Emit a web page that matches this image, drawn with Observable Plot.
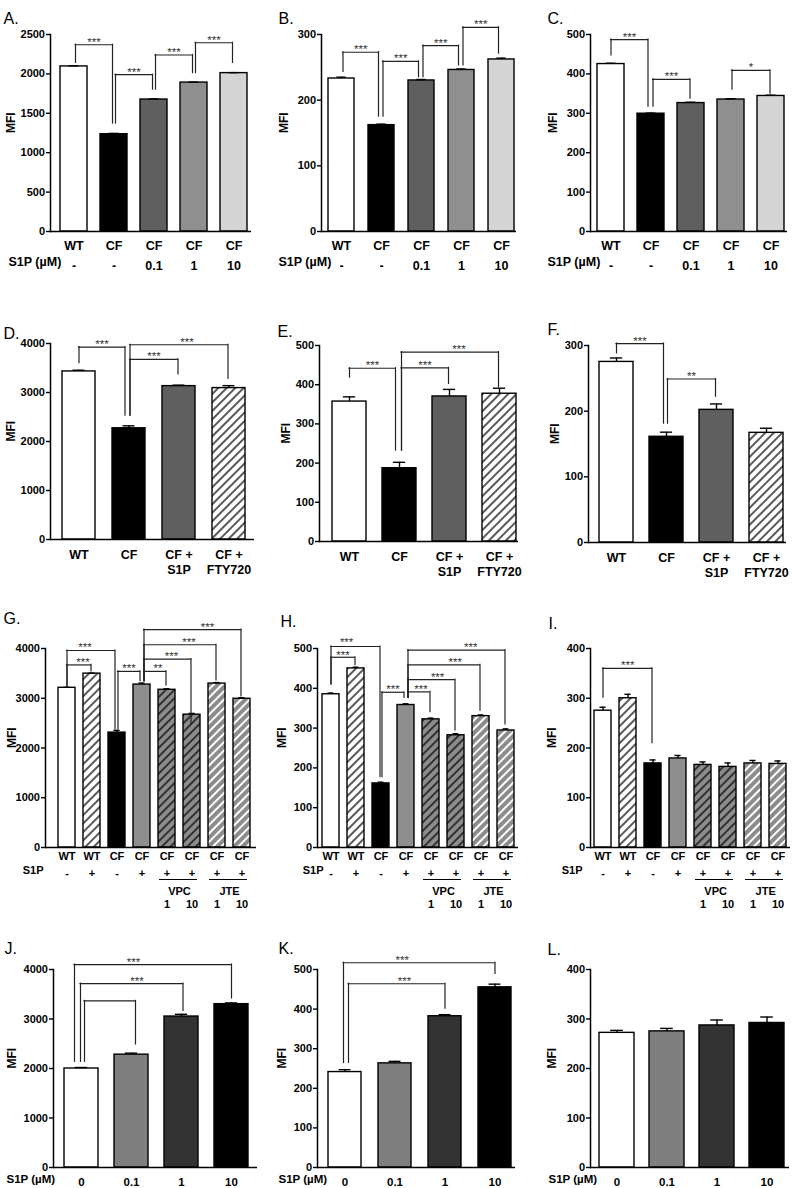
<!DOCTYPE html>
<html><head><meta charset="utf-8">
<script src="https://cdn.jsdelivr.net/npm/d3@7"></script>
<script src="https://cdn.jsdelivr.net/npm/@observablehq/plot@0.6"></script>
<style>
body{margin:0;background:#fff;}
#fig{position:relative;width:794px;height:1188px;background:#fff;overflow:hidden;}
#fig svg{position:absolute;overflow:visible;}
</style></head><body>
<svg width="0" height="0" style="position:absolute">
<defs>
<pattern id="hW" patternUnits="userSpaceOnUse" width="6" height="6" patternTransform="rotate(45)">
<rect width="6" height="6" fill="#ffffff"/><line x1="3" y1="-1" x2="3" y2="7" stroke="#000" stroke-width="1.3"/>
</pattern>
<pattern id="hGB" patternUnits="userSpaceOnUse" width="6" height="6" patternTransform="rotate(45)">
<rect width="6" height="6" fill="#8c8c8c"/><line x1="3" y1="-1" x2="3" y2="7" stroke="#000" stroke-width="1.3"/>
</pattern>
<pattern id="hGW" patternUnits="userSpaceOnUse" width="6" height="6" patternTransform="rotate(45)">
<rect width="6" height="6" fill="#8c8c8c"/><line x1="3" y1="-1" x2="3" y2="7" stroke="#fff" stroke-width="2"/>
</pattern>
</defs></svg>
<div id="fig"></div>
<script>
// ---------- categories / tick labels ----------
const groupsAC = ["WT","CF","CF","CF","CF"];
const dosesAC  = ["-","-","0.1","1","10"];
const groupsDF = ["WT","CF","CF +\nS1P","CF +\nFTY720"];
const groupsGI = ["WT","WT","CF","CF","CF","CF","CF","CF"];
const s1pGI    = ["-","+","-","+","+","+","+","+"];
const doseGI   = ["","","","","1","10","1","10"];
const inhibGI  = [["VPC",4,5],["JTE",6,7]];
const dosesJL  = ["0","0.1","1","10"];

const ticks2500 = [0,500,1000,1500,2000,2500];
const ticks300 = [0,100,200,300];
const ticks400 = [0,100,200,300,400];
const ticks500 = [0,100,200,300,400,500];
const ticks4000 = [0,1000,2000,3000,4000];

// ---------- values (MFI) and errors ----------
const mfiA = [2095, 1235, 1675, 1890, 2010];
const semA = [8, 10, 8, 6, 6];
const mfiB = [233, 162, 230, 246, 262];
const semB = [2, 1.5, 1.5, 1.5, 2];
const mfiC = [425, 299, 326, 335, 344];
const semC = [2, 1.5, 2, 2, 2];

const mfiD = [3430, 2270, 3130, 3090];
const semD = [25, 50, 20, 50];
const mfiE = [357, 187, 370, 377];
const semE = [12, 15, 18, 14];
const mfiF = [275, 161, 202, 167];
const semF = [6, 7, 9, 7];

const mfiG = [3210, 3495, 2310, 3275, 3170, 2670, 3295, 2990];
const semG = [10, 10, 45, 30, 20, 25, 20, 20];
const mfiH = [385, 450, 161, 358, 322, 282, 330, 294];
const semH = [3, 3, 3, 3, 3, 4, 3, 4];
const mfiI = [275, 300, 169, 179, 166, 162, 169, 168];
const semI = [7, 8, 7, 6, 6, 8, 6, 6];

const mfiJ = [2000, 2280, 3050, 3300];
const semJ = [20, 30, 45, 25];
const mfiK = [241, 263, 382, 455];
const semK = [6, 5, 4, 8];
const mfiL = [272, 275, 287, 292];
const semL = [5, 6, 11, 12];

// ---------- significance brackets: [from, to, bracket level, from-leg end, to-leg end, stars] ----------
const sigA = [[0,1,2370,2140,1370,"***"],[1,2,1990,1370,1800,"***"],[2,3,2240,1800,2010,"***"],[3,4,2395,2010,2140,"***"]];
const sigB = [[0,1,273,243,175,"***"],[1,2,259,175,235,"***"],[2,3,283,235,253,"***"],[3,4,311,253,271,"***"]];
const sigC = [[0,1,487,447,317,"***"],[1,2,386,317,337,"***"],[3,4,409,360,350,"*"]];
const sigD = [[0,1,3925,3600,2530,"***"],[1,2,3675,2530,3370,"***"],[1,3,3975,2530,3280,"***"]];
const sigE = [[0,1,442,418,232,"***"],[1,2,443,232,402,"***"],[1,3,483,232,394,"***"]];
const sigF = [[0,1,303,288,181,"***"],[1,2,249,181,222,"**"]];
const sigG = [[0,1,3670,3240,3540,"***"],[0,2,3960,3240,2380,"***"],[2,3,3540,2380,3345,"***"],[3,4,3540,3345,3260,"**"],[3,5,3785,3345,2480,"***"],[3,6,4075,3345,3360,"***"],[3,7,4380,3345,3035,"***"]];
const sigH = [[0,1,478,410,458,"***"],[0,2,505,410,177,"***"],[2,3,390,177,376,"***"],[3,4,391,376,340,"***"],[3,5,422,376,294,"***"],[3,6,459,376,344,"***"],[3,7,496,376,309,"***"]];
const sigI = [[0,2,360,301,210,"***"]];
const sigJ = [[0,3,4100,2135,3415,"***"],[0,2,3715,2135,3165,"***"],[0,1,3365,2135,2485,""]];
const sigK = [[0,3,517,264,489,"***"],[0,2,464,264,401,"***"]];
const sigL = [];

// ---------- styles ----------
const fillsAC = ["#ffffff","#000000","#5f5f5f","#8f8f8f","#d4d4d4"];
const fillsDF = ["#ffffff","#000000","#5f5f5f","url(#hW)"];
const fillsGI = ["#ffffff","url(#hW)","#000000","#8e8e8e","url(#hGB)","url(#hGB)","url(#hGW)","url(#hGW)"];
const fillsJL = ["#ffffff","#7f7f7f","#333333","#000000"];

// ---------- layout (absolute page pixels); nudge = [left-leg dx, right-leg dx, label dx, label dy] ----------
const panels = [
 {letter:"A.", kind:"AC", mfi:mfiA, sem:semA, ticks:ticks2500, sig:sigA, fills:fillsAC, box:[0,0,262,288], axisX:50, axisEnd:251, topY:34, baseY:231, firstBar:60, step:40, bw:27, letterPos:[3,12], mfiX:11, rowLabel:[8,265]},
 {letter:"B.", kind:"AC", mfi:mfiB, sem:semB, ticks:ticks300, sig:sigB, fills:fillsAC, box:[262,0,262,288], axisX:321, axisEnd:516, topY:34, baseY:231, firstBar:328, step:40, bw:26, letterPos:[278,12], mfiX:284, rowLabel:[278,265], nudge:[[1.5,-3,0],[1.5,-3,0],[1.5,-3,0],[1.5,-3,0]]},
 {letter:"C.", kind:"AC", mfi:mfiC, sem:semC, ticks:ticks500, sig:sigC, fills:fillsAC, box:[524,0,270,288], axisX:590, axisEnd:787, topY:34, baseY:231, firstBar:597, step:40, bw:27, letterPos:[547,12], mfiX:553, rowLabel:[547,265], nudge:[[0,-3,0],[2,-1,0],[1,-1,0]]},
 {letter:"D.", kind:"DF", mfi:mfiD, sem:semD, ticks:ticks4000, sig:sigD, fills:fillsDF, box:[0,288,262,292], axisX:50, axisEnd:254, topY:343, baseY:539, firstBar:62, step:50, bw:33, letterPos:[3,327], mfiX:11, nudge:[[0,-4,0],[1,-1,0],[1,-1,8]]},
 {letter:"E.", kind:"DF", mfi:mfiE, sem:semE, ticks:ticks500, sig:sigE, fills:fillsDF, box:[262,288,262,292], axisX:319, axisEnd:518, topY:345, baseY:541, firstBar:332, step:50, bw:34, letterPos:[277,325], mfiX:286, nudge:[[0,-4,0],[2,-1,0],[2,-1,9]]},
 {letter:"F.", kind:"DF", mfi:mfiF, sem:semF, ticks:ticks300, sig:sigF, fills:fillsDF, box:[524,288,270,292], axisX:588, axisEnd:786, topY:345, baseY:542, firstBar:599, step:50, bw:34, letterPos:[547,323], mfiX:555, nudge:[[0,-3,0],[1,-1,0]]},
 {letter:"G.", kind:"GI", mfi:mfiG, sem:semG, ticks:ticks4000, sig:sigG, fills:fillsGI, box:[0,580,262,330], axisX:45, axisEnd:256, topY:648, baseY:847, firstBar:58, step:25, bw:17, letterPos:[3,612], mfiX:12, rowLabel:[43,873], nudge:[[0,-1,4],[0,-2,-6],[1,-2,0],[2,-1,3],[2,-1,4],[2,-1,9],[2,-1,15]]},
 {letter:"H.", kind:"GI", mfi:mfiH, sem:semH, ticks:ticks500, sig:sigH, fills:fillsGI, box:[262,580,262,330], axisX:317, axisEnd:518, topY:648, baseY:847, firstBar:322, step:25.1, bw:17.5, letterPos:[280,615], mfiX:282, rowLabel:[323,873], nudge:[[0,-1,0,1],[0,-1,-9,-2],[1,-2,0],[2,-1,2],[2,-1,6],[2,-1,11],[2,-1,14]]},
 {letter:"I.", kind:"GI", mfi:mfiI, sem:semI, ticks:ticks400, sig:sigI, fills:fillsGI, box:[524,580,270,330], axisX:590, axisEnd:790, topY:648, baseY:847, firstBar:593, step:25.3, bw:17, letterPos:[548,617], mfiX:552, rowLabel:[582,873], nudge:[[0,-1,0]]},
 {letter:"J.", kind:"JL", mfi:mfiJ, sem:semJ, ticks:ticks4000, sig:sigJ, fills:fillsJL, box:[0,910,262,278], axisX:53, axisEnd:257, topY:969, baseY:1167, firstBar:63, step:50.3, bw:34, letterPos:[4,942], mfiX:12, rowLabel:[6,1182], nudge:[[-7,0,-20],[-1,1.5,5],[3,4,0]]},
 {letter:"K.", kind:"JL", mfi:mfiK, sem:semK, ticks:ticks500, sig:sigK, fills:fillsJL, box:[262,910,262,278], axisX:317, axisEnd:515, topY:969, baseY:1167, firstBar:326, step:50.7, bw:33, letterPos:[278,942], mfiX:282, rowLabel:[278,1182], nudge:[[-1.5,0,-18],[3.5,0,7]]},
 {letter:"L.", kind:"JL", mfi:mfiL, sem:semL, ticks:ticks400, sig:sigL, fills:fillsJL, box:[524,910,270,278], axisX:590, axisEnd:789, topY:969, baseY:1167, firstBar:597, step:50.7, bw:35, letterPos:[547,943], mfiX:552, rowLabel:[548,1182]}
];

const FONT = "'Liberation Sans', Arial, Helvetica, sans-serif";
const zero = () => 0;

function buildPanel(p) {
  const n = p.mfi.length;
  const W = p.axisEnd - p.axisX;
  const pi = (p.step - p.bw) / p.step;
  const span = p.step * (n - 1) + p.bw;
  const po = (W / p.step - n + pi) / 2;
  const align = (p.firstBar - p.axisX) / (W - span);
  const [bx, by, bwd, bht] = p.box;
  const rows = p.mfi.map((v, i) => ({i, v, top: v + p.sem[i], fill: p.fills[i]}));
  const capInset = p.bw * 0.32;
  const marks = [];

  // bars + error bars
  marks.push(Plot.barY(rows, {x: "i", y: "v", fill: "fill", stroke: "#000", strokeWidth: 1.4}));
  marks.push(Plot.ruleX(rows, {x: "i", y1: "v", y2: "top", stroke: "#000", strokeWidth: 1.4}));
  marks.push(Plot.tickY(rows, {x: "i", y: "top", insetLeft: capInset, insetRight: capInset, stroke: "#000", strokeWidth: 1.4}));

  // axes
  marks.push(Plot.ruleY([0], {stroke: "#000", strokeWidth: 1.5}));
  marks.push(Plot.frame({anchor: "left", stroke: "#000", strokeWidth: 1.5}));
  marks.push(Plot.axisY({ticks: p.ticks, tickFormat: "d", tickSize: 4, tickPadding: 1.5, strokeWidth: 1.4, label: null, fontSize: 11}));
  marks.push(Plot.text(["MFI"], {text: d => d, frameAnchor: "left", rotate: -90, dx: p.mfiX - p.axisX, fontSize: 12}));
  marks.push(Plot.text([p.letter], {text: d => d, frameAnchor: "top-left", textAnchor: "start", dx: p.letterPos[0] - p.axisX, dy: p.letterPos[1] - p.topY, fontSize: 16, fontWeight: "normal"}));

  // significance brackets
  const half = p.bw / 2;
  p.sig.forEach(([a, b, h, ya, yb, lab], k) => {
    const [nl, nr, nt, ndy = 0] = (p.nudge && p.nudge[k]) || [1.5, -1.5, 0, 0];
    const st = {stroke: "#222", strokeWidth: 1.2, strokeLinecap: "square"};
    marks.push(Plot.ruleY([{a, b, h}], {x1: "a", x2: "b", y: "h", insetLeft: half + nl, insetRight: half - nr, ...st}));
    marks.push(Plot.ruleX([{a, ya, h}], {x: "a", y1: "ya", y2: "h", dx: nl, ...st}));
    marks.push(Plot.ruleX([{b, yb, h}], {x: "b", y1: "yb", y2: "h", dx: nr, ...st}));
    if (lab) marks.push(Plot.text([{a, h}], {x: "a", y: "h", text: () => lab, dx: (b - a) * p.step / 2 + (nl + nr) / 2 + nt, dy: 1 + ndy, lineAnchor: "bottom", fontSize: 11.5, fontWeight: "normal", fill: "#333"}));
  });

  // category labels under the axis
  if (p.kind === "AC") {
    marks.push(Plot.text(rows, {x: "i", y: zero, text: d => groupsAC[d.i], dy: 14, fontSize: 12.5}));
    marks.push(Plot.text(rows, {x: "i", y: zero, text: d => dosesAC[d.i], dy: 34, fontSize: 12.5}));
    marks.push(Plot.text(["S1P (\u00B5M)"], {text: d => d, frameAnchor: "bottom-left", textAnchor: "start", dx: p.rowLabel[0] - p.axisX, dy: p.rowLabel[1] - p.baseY, fontSize: 12.5}));
  } else if (p.kind === "DF") {
    marks.push(Plot.text(rows, {x: "i", y: zero, text: d => groupsDF[d.i], dy: 9, lineAnchor: "top", lineHeight: 1.2, fontSize: 12.5}));
  } else if (p.kind === "GI") {
    marks.push(Plot.text(rows, {x: "i", y: zero, text: d => groupsGI[d.i], dy: 9, fontSize: 11}));
    marks.push(Plot.text(rows, {x: "i", y: zero, text: d => s1pGI[d.i], dy: 26, fontSize: 11}));
    marks.push(Plot.text(rows, {x: "i", y: zero, text: d => doseGI[d.i], dy: 57, fontSize: 11}));
    marks.push(Plot.ruleY(inhibGI, {x1: d => d[1], x2: d => d[2], y: zero, dy: 32, insetLeft: 1, insetRight: 3, stroke: "#000", strokeWidth: 1.2}));
    marks.push(Plot.text(inhibGI, {x: d => d[1], y: zero, text: d => d[0], dx: p.step / 2, dy: 44, fontSize: 11}));
    marks.push(Plot.text(["S1P"], {text: d => d, frameAnchor: "bottom-left", textAnchor: "end", dx: p.rowLabel[0] - p.axisX, dy: p.rowLabel[1] - p.baseY, fontSize: 11}));
  } else {
    marks.push(Plot.text(rows, {x: "i", y: zero, text: d => dosesJL[d.i], dy: 15, fontSize: 11.5}));
    marks.push(Plot.text(["S1P (\u00B5M)"], {text: d => d, frameAnchor: "bottom-left", textAnchor: "start", dx: p.rowLabel[0] - p.axisX, dy: p.rowLabel[1] - p.baseY, fontSize: 11.5}));
  }

  const svg = Plot.plot({
    width: bwd, height: bht,
    marginLeft: p.axisX - bx, marginRight: bx + bwd - p.axisEnd,
    marginTop: p.topY - by, marginBottom: by + bht - p.baseY,
    x: {type: "band", domain: d3.range(n), paddingInner: pi, paddingOuter: po, align, axis: null},
    y: {domain: [0, p.ticks[p.ticks.length - 1]], axis: null},
    color: {type: "identity"},
    style: {fontFamily: FONT, fontSize: "11px", fontWeight: "bold", color: "#000", background: "transparent", overflow: "visible"},
    marks
  });
  svg.style.left = bx + "px";
  svg.style.top = by + "px";
  svg.style.position = "absolute";
  return svg;
}

const fig = document.getElementById("fig");
for (const p of panels) fig.appendChild(buildPanel(p));
</script>
</body></html>
